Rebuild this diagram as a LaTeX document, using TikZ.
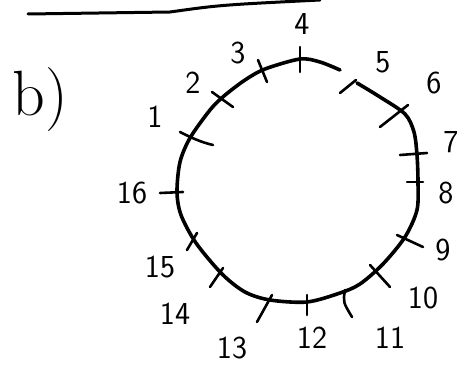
\documentclass[tikz,border=0pt]{standalone}
\usepackage{fontspec}
\begin{document}
\begin{tikzpicture}[>=stealth, x=1pt, y=-1pt,
    lbl/.style={font=\sffamily\fontsize{32}{32}\selectfont, inner sep=0pt},
    tick/.style={line width=2.6pt, line cap=round},
    rim/.style={line width=3.6pt, line cap=round, line join=round}]
    \useasboundingbox (0,0) rectangle (464,369);

    % Strich oben
    \draw[line width=3pt, line cap=round] (28,14) -- (170,12) .. controls (220,5) .. (320,0);

    % Teilaufgabe
    \node[font=\fontsize{64}{64}\selectfont, inner sep=0pt] (teil) at (40,100) {b)};

    % Kreis (von Hand, Luecke bei 5)
    \draw[rim] plot[smooth] coordinates {
        (357,83) (380,97) (405,114) (414,132) (417,155) (418,182) (417,210)
        (405,237) (383,264) (360,284) (340,293) (307,302) (270,300) (245,292)
        (222,274) (196,243) (181,215) (177,192) (180,162) (190,138) (210,110)
        (224,96) (245,80) (265,69) (300,59) (320,62) (340,70)};

    % Teilstriche
    \draw[tick] (180,132) .. controls (190,137) and (200,142) .. (213,145);
    \foreach \xa/\ya/\xb/\yb in {212/92/233/107, 258/60/267/82, 300/47/300/72,
        340/93/356/80, 380/127/408/105, 400/155/427/153, 407/182/423/182,
        397/235/423/247, 370/265/390/287, 307/295/307/315, 257/322/272/295,
        210/287/223/268, 187/250/197/233, 160/193/183/192} {
        \draw[tick] (\xa,\ya) -- (\xb,\yb);
    }
    \draw[tick] (345,290) .. controls (343,302) .. (352,317);

    % Nummern
    \foreach \n/\x/\y in {1/155/117, 2/193/83, 3/238/53, 4/302/24, 5/383/62,
        6/434/83, 7/451/142, 8/446/193, 9/443/250, 10/423/298, 11/390/338,
        12/312/338, 13/232/348, 14/175/314, 15/160/267, 16/132/193} {
        \node[lbl] (l\n) at (\x,\y) {\n};
    }

\end{tikzpicture}
\end{document}
